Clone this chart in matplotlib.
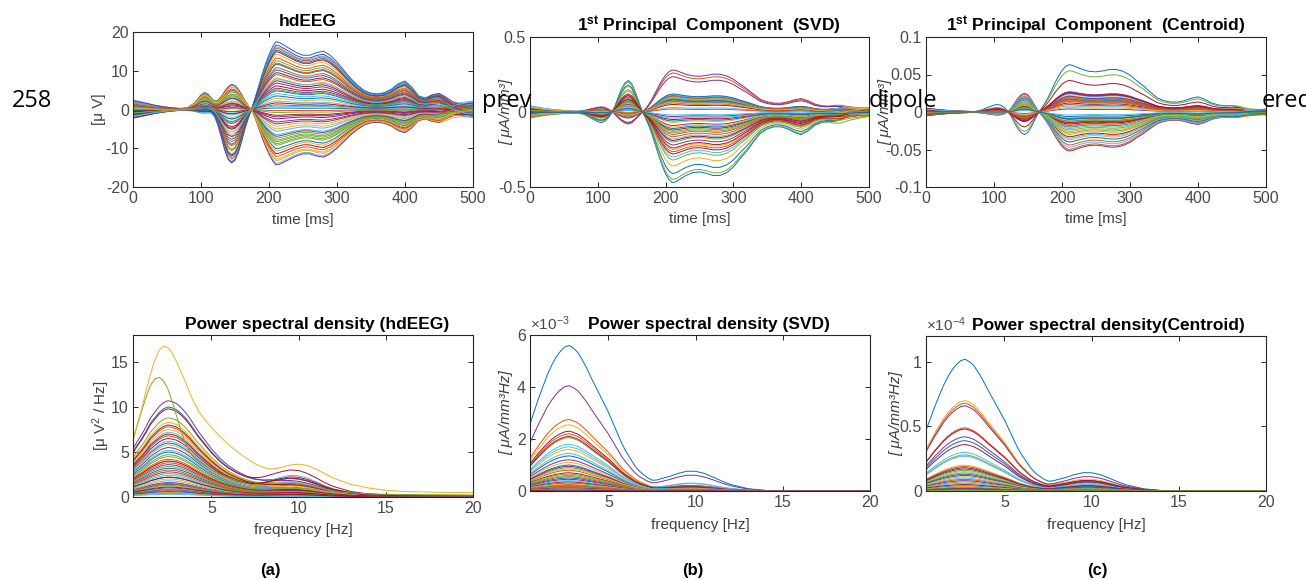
import numpy as np
import matplotlib
matplotlib.use("Agg")
import matplotlib.pyplot as plt

plt.rcParams.update({
    'font.family': 'Liberation Sans',
    'mathtext.fontset': 'custom',
    'mathtext.rm': 'Liberation Sans',
    'mathtext.it': 'Liberation Sans:italic',
    'mathtext.bf': 'Liberation Sans:bold',
    'axes.unicode_minus': False,
})

# MATLAB default line colours
matlab_colors = ['#0072BD', '#D95319', '#EDB120', '#7E2F8E', '#77AC30', '#4DBEEE', '#A2142F']

# ---------------- time courses (knots) ----------------
t_ms = [0, 10, 20, 30, 40, 50, 60, 70, 80, 90,
        100, 105, 110, 115, 120, 125, 130, 135, 140, 145,
        150, 155, 160, 165, 170, 175, 180, 185, 190, 195,
        200, 205, 210, 215, 220, 230, 240, 250, 260, 270,
        280, 290, 300, 310, 320, 330, 340, 350, 360, 370,
        380, 390, 400, 410, 420, 430, 440, 450, 460, 470,
        480, 490, 500]

# hdEEG waveform shapes
eeg_late = [0, 0, 0, 0, 0, 0, 0, 0, 0, 0,
            0, 0, 0, 0, 0, 0, 0, 0, 0, 0,
            0, 0, 0, 0, 0, 0.02, 0.15, 0.32, 0.5, 0.66,
            0.8, 0.92, 1.0, 0.99, 0.96, 0.9, 0.84, 0.8, 0.8, 0.84,
            0.86, 0.8, 0.7, 0.58, 0.46, 0.36, 0.28, 0.24, 0.23, 0.25,
            0.3, 0.38, 0.42, 0.33, 0.2, 0.17, 0.22, 0.24, 0.18, 0.1,
            0.06, 0.04, 0.03]
eeg_early = [0, 0, 0, 0, 0, 0, 0, 0, 0, 0.02,
             0.06, 0.08, 0.07, 0.03, -0.08, -0.28, -0.52, -0.76, -0.94, -1.0,
             -0.95, -0.8, -0.58, -0.34, -0.14, 0.0, 0.04, 0.04, 0.03, 0.02,
             0.01, 0, 0, 0, 0, 0, 0, 0, 0, 0,
             0, 0, 0, 0, 0, 0, 0, 0, 0, 0,
             0, 0, 0, 0, 0, 0, 0, 0, 0, 0,
             0, 0, 0]
eeg_p1 = [0, 0, 0, 0, 0, 0, 0, 0.02, 0.1, 0.35,
          0.85, 1.0, 0.92, 0.65, 0.35, 0.12, 0.0, -0.05, -0.05, 0.0,
          0, 0, 0, 0, 0, 0, 0, 0, 0, 0,
          0, 0, 0, 0, 0, 0, 0, 0, 0, 0,
          0, 0, 0, 0, 0, 0, 0, 0, 0, 0,
          0, 0, 0, 0, 0, 0, 0, 0, 0, 0,
          0, 0, 0]
eeg_base = [1.0, 0.85, 0.68, 0.5, 0.36, 0.25, 0.16, 0.1, 0.05, 0.02,
            0, 0, 0, 0, 0, 0, 0, 0, 0, 0,
            0, 0, 0, 0, 0, 0, 0, 0, 0, 0,
            0, 0, 0, 0, 0, 0, 0, 0, 0, 0,
            0, 0, 0, 0, 0, 0, 0, 0, 0, 0,
            0, 0, 0, 0, 0, 0, 0.1, 0.2, 0.3, 0.45,
            0.6, 0.75, 0.85]

# principal component waveform shapes
pc_late = [0, 0, 0, 0, 0, 0, 0, 0, 0, 0,
           0, 0, 0, 0, 0, 0, 0, 0, 0, 0,
           0, 0, 0, 0, 0.05, 0.16, 0.3, 0.46, 0.62, 0.76,
           0.88, 0.96, 1.0, 0.99, 0.96, 0.9, 0.86, 0.85, 0.87, 0.9,
           0.9, 0.86, 0.78, 0.66, 0.55, 0.42, 0.3, 0.24, 0.21, 0.21,
           0.24, 0.29, 0.32, 0.27, 0.19, 0.15, 0.14, 0.15, 0.13, 0.08,
           0.05, 0.02, 0.0]
pc_early = [0, 0, 0, 0, 0, 0, 0, 0, 0, 0,
            0, 0, 0, 0, -0.05, -0.2, -0.45, -0.72, -0.92, -1.0,
            -0.9, -0.65, -0.35, -0.05, 0.06, 0.06, 0.04, 0.02, 0.01, 0,
            0, 0, 0, 0, 0, 0, 0, 0, 0, 0,
            0, 0, 0, 0, 0, 0, 0, 0, 0, 0,
            0, 0, 0, 0, 0, 0, 0, 0, 0, 0,
            0, 0, 0]
pc_p1 = [0, 0, 0, 0, 0, 0, 0, 0.05, 0.25, 0.6,
         0.92, 1.0, 0.9, 0.6, 0.3, 0.08, -0.05, -0.05, 0, 0,
         0, 0, 0, 0, 0, 0, 0, 0, 0, 0,
         0, 0, 0, 0, 0, 0, 0, 0, 0, 0,
         0, 0, 0, 0, 0, 0, 0, 0, 0, 0,
         0, 0, 0, 0, 0, 0, 0, 0, 0, 0,
         0, 0, 0]
pc_base = [1.0, 0.8, 0.6, 0.45, 0.35, 0.25, 0.18, 0.12, 0.07, 0.03,
           0, 0, 0, 0, 0, 0, 0, 0, 0, 0,
           0, 0, 0, 0, 0, 0, 0, 0, 0, 0,
           0, 0, 0, 0, 0, 0, 0, 0, 0, 0,
           0, 0, 0, 0, 0, 0, 0, 0, 0, 0,
           0, 0, 0, 0, 0, 0, 0.1, 0.2, 0.35, 0.5,
           0.6, 0.7, 0.75]

# per-channel amplitudes: late peak (210 ms), N1 (145 ms), P1 (105 ms), baseline (0 ms)
eeg_late_amp = [17.5, -3.2, 9.5, -12.8, 4.1, 15.8, -7.4, 1.2, 12.6, -10.1,
                6.8, -1.5, 14.2, -5.6, 2.9, -13.9, 10.8, -8.3, 0.4, 16.6,
                -11.4, 5.5, -2.4, 8.1, -6.5, 13.3, -9.2, 3.5, -0.8, 11.7,
                -14.3, 7.4, -4.3, 16.1, -12.1, 0.9, 9.0, -7.9, 4.8, -1.9,
                14.9, -10.7, 6.1, -5.0, 2.2, 12.0, -8.8, 10.2, -3.7, 15.3,
                -6.9, 1.7, -13.2, 7.9, -0.3, 5.1]
eeg_n1_amp = [13.5, -1.2, 7.0, -5.8, 2.5, 12.8, -3.0, 0.5, 10.2, -4.6,
              4.8, -0.4, 11.5, -2.2, 2.0, -6.3, 8.3, -3.6, 0.6, 13.8,
              -5.0, 3.6, -1.5, 6.4, -2.8, 10.6, -4.0, 2.4, -0.2, 9.0,
              -6.5, 5.1, -1.8, 12.4, -5.3, 1.0, 6.9, -3.3, 3.1, -0.9,
              11.8, -4.8, 4.4, -2.1, 1.4, 9.4, -3.9, 7.7, -1.6, 12.0,
              -2.9, 1.1, -5.9, 5.8, -0.5, 3.3]
eeg_p1_amp = [1.0, 3.2, -0.8, 4.8, 0.4, -1.6, 2.6, 0.0, -0.5, 4.2,
              1.5, 0.8, -1.2, 2.0, 0.3, 5.0, -0.9, 3.5, 0.2, -2.0,
              4.5, 0.6, 1.2, -0.4, 2.8, -1.0, 3.8, 0.5, 0.9, -0.7,
              4.6, 0.1, 1.8, -1.8, 3.9, 0.3, -0.2, 3.0, 0.7, 1.1,
              -1.4, 4.0, 0.2, 2.2, 0.4, -0.6, 3.3, -0.3, 1.6, -1.1,
              2.4, 0.5, 4.4, 0.0, 0.6, 0.9]
eeg_base_amp = [-0.8, 1.2, 0.3, -1.9, 2.4, -0.2, 0.9, -1.3, 0.6, -0.5,
                1.7, -2.2, 0.1, 1.0, -0.9, 0.4, -1.6, 2.0, -0.3, 0.8,
                -1.1, 1.4, -0.6, 0.2, -2.0, 1.1, 0.5, -1.4, 1.9, -0.1,
                0.7, -0.7, 1.3, -1.8, 0.0, 2.2, -1.0, 0.6, -0.4, 1.5,
                -1.2, 0.3, -2.1, 0.9, 1.6, -0.8, 0.4, -1.5, 1.0, -0.2,
                2.3, -0.6, 0.2, -1.7, 1.2, -0.9]

svd_late_amp = [-0.47, 0.28, -0.12, 0.1, -0.3, 0.06, -0.2, 0.26, -0.45, 0.11,
                -0.09, 0.08, -0.25, 0.03, -0.36, 0.115, -0.15, 0.09, -0.41, 0.07,
                -0.05, 0.235, -0.28, 0.1, -0.18, 0.02, -0.32, 0.12, -0.13, 0.085,
                -0.22, 0.05, -0.07, 0.095, -0.265, -0.04, -0.165, 0.075, -0.11, -0.03,
                -0.24, 0.065, -0.19, -0.1, -0.02, 0.105, -0.14, -0.06]
svd_n1_amp = [-0.21, 0.08, -0.05, 0.03, -0.14, 0.02, -0.09, 0.075, -0.2, 0.035,
              -0.04, 0.025, -0.11, 0.01, -0.17, 0.04, -0.07, 0.03, -0.18, 0.02,
              -0.02, 0.07, -0.12, 0.03, -0.08, 0.005, -0.15, 0.04, -0.06, 0.025,
              -0.1, 0.015, -0.03, 0.03, -0.12, -0.02, -0.075, 0.02, -0.05, -0.01,
              -0.11, 0.02, -0.085, -0.045, -0.01, 0.035, -0.065, -0.025]
svd_p1_amp = [-0.07, 0.03, -0.01, 0.02, -0.04, 0.01, -0.02, 0.035, -0.06, 0.015,
              0.0, 0.01, -0.03, 0.005, -0.05, 0.02, -0.015, 0.01, -0.055, 0.005,
              0.0, 0.03, -0.035, 0.01, -0.02, 0.0, -0.04, 0.02, -0.01, 0.01,
              -0.025, 0.005, 0.0, 0.015, -0.03, 0.0, -0.02, 0.01, -0.01, 0.0,
              -0.03, 0.005, -0.02, -0.01, 0.0, 0.015, -0.015, -0.005]
svd_base_amp = [0.04, -0.02, 0.01, -0.03, 0.02, 0.0, -0.01, 0.03, -0.04, 0.015,
                -0.005, 0.025, -0.015, 0.005, 0.035, -0.025, 0.01, -0.01, 0.02, -0.03,
                0.0, 0.015, -0.02, 0.03, -0.005, 0.01, -0.035, 0.02, 0.005, -0.015,
                0.025, -0.01, 0.0, 0.04, -0.02, 0.01, -0.03, 0.015, 0.0, -0.01,
                0.02, -0.025, 0.005, 0.03, -0.015, 0.0, 0.01, -0.005]

cen_late_amp = [0.063, -0.052, 0.012, -0.03, 0.024, -0.015, 0.055, -0.044, 0.018, -0.02,
                -0.01, 0.042, -0.037, 0.008, -0.026, 0.02, -0.05, 0.015, -0.012, 0.027,
                -0.033, 0.004, -0.018, 0.022, -0.047, 0.01, -0.024, 0.017, -0.008, -0.04,
                0.025, -0.014, 0.006, -0.035, 0.019, -0.022, 0.014, -0.028, -0.006, 0.021,
                -0.016, -0.011, 0.026, -0.019, -0.004, 0.016, -0.013, -0.009]
cen_n1_amp = [0.03, -0.025, 0.006, -0.014, 0.012, -0.007, 0.026, -0.021, 0.009, -0.01,
              -0.005, 0.02, -0.018, 0.004, -0.012, 0.01, -0.024, 0.007, -0.006, 0.013,
              -0.016, 0.002, -0.009, 0.011, -0.022, 0.005, -0.011, 0.008, -0.004, -0.019,
              0.012, -0.007, 0.003, -0.017, 0.009, -0.01, 0.007, -0.013, -0.003, 0.01,
              -0.008, -0.005, 0.012, -0.009, -0.002, 0.008, -0.006, -0.004]
cen_p1_amp = [0.01, -0.004, 0.002, -0.002, 0.004, 0.0, 0.006, -0.003, 0.003, -0.001,
              0.0, 0.005, -0.002, 0.001, -0.001, 0.003, -0.004, 0.002, 0.0, 0.004,
              -0.002, 0.0, -0.001, 0.003, -0.003, 0.001, -0.001, 0.002, 0.0, -0.002,
              0.004, 0.0, 0.001, -0.002, 0.003, -0.001, 0.002, -0.001, 0.0, 0.003,
              -0.001, 0.0, 0.003, -0.001, 0.0, 0.002, 0.0, 0.0]
cen_base_amp = [-0.005, 0.004, 0.001, -0.002, 0.003, -0.001, 0.002, -0.004, 0.0, 0.005,
                -0.003, 0.001, 0.002, -0.001, 0.004, -0.002, 0.0, 0.003, -0.005, 0.001,
                0.002, -0.003, 0.0, 0.004, -0.001, 0.002, -0.004, 0.001, 0.003, -0.002,
                0.0, 0.005, -0.001, 0.002, -0.003, 0.001, 0.0, -0.002, 0.003, -0.001,
                0.002, 0.0, -0.003, 0.001, 0.004, -0.002, 0.0, 0.001]

# ---------------- power spectra (knots) ----------------
freq_hz = [0.5, 0.75, 1, 1.25, 1.5, 1.75, 2, 2.25, 2.5, 2.75,
           3, 3.25, 3.5, 3.75, 4, 4.25, 4.5, 4.75, 5, 5.25,
           5.5, 5.75, 6, 6.25, 6.5, 6.75, 7, 7.25, 7.5, 7.75,
           8, 8.5, 9, 9.5, 10, 10.5, 11, 11.5, 12, 13,
           14, 15, 16, 18, 20]
eeg_delta = [0.5, 0.58, 0.65, 0.73, 0.82, 0.88, 0.94, 0.98, 1.0, 0.99,
             0.97, 0.93, 0.88, 0.82, 0.75, 0.68, 0.62, 0.56, 0.5, 0.45,
             0.4, 0.36, 0.32, 0.29, 0.26, 0.235, 0.21, 0.19, 0.17, 0.155,
             0.14, 0.12, 0.1, 0.09, 0.08, 0.07, 0.06, 0.05, 0.045, 0.035,
             0.028, 0.022, 0.018, 0.014, 0.012]
pc_delta = [0.46, 0.55, 0.64, 0.72, 0.8, 0.865, 0.92, 0.96, 0.99, 1.0,
            0.98, 0.95, 0.9, 0.845, 0.78, 0.72, 0.66, 0.6, 0.54, 0.47,
            0.4, 0.33, 0.27, 0.22, 0.17, 0.13, 0.1, 0.07, 0.045, 0.035,
            0.03, 0.017, 0.01, 0.006, 0.004, 0.003, 0.002, 0.001, 0.001, 0,
            0, 0, 0, 0, 0]
alpha_bump = [0, 0, 0, 0, 0, 0, 0, 0, 0, 0,
              0, 0, 0, 0, 0, 0, 0, 0, 0, 0,
              0, 0, 0.02, 0.03, 0.04, 0.07, 0.1, 0.15, 0.22, 0.3,
              0.4, 0.62, 0.83, 0.97, 0.98, 0.88, 0.7, 0.5, 0.33, 0.12,
              0.03, 0.01, 0, 0, 0]

psd_eeg_yellow = [6.3, 8.1, 9.8, 11.8, 13.6, 15.2, 16.3, 16.75, 16.6, 16.0,
                  15.0, 13.9, 12.8, 11.6, 10.5, 9.6, 8.9, 8.3, 7.7, 7.2,
                  6.7, 6.25, 5.8, 5.4, 5.0, 4.65, 4.3, 4.0, 3.7, 3.45,
                  3.25, 3.1, 3.3, 3.55, 3.65, 3.5, 3.1, 2.6, 2.1, 1.4,
                  1.0, 0.75, 0.62, 0.52, 0.48]
psd_eeg_green = [6.3, 8.0, 9.6, 11.1, 12.4, 13.1, 13.3, 12.9, 12.0, 10.6,
                 9.0, 7.4, 6.0, 5.0, 4.3, 3.9, 3.6, 3.3, 3.0, 2.75,
                 2.5, 2.3, 2.1, 1.95, 1.8, 1.65, 1.5, 1.4, 1.3, 1.2,
                 1.1, 1.0, 0.95, 0.95, 0.95, 0.9, 0.8, 0.7, 0.6, 0.45,
                 0.35, 0.3, 0.28, 0.25, 0.22]
psd_eeg_delta_amp = [10.0, 7.8, 8.3, 10.7, 8.8, 7.2, 9.8,
                     6.0, 6.8, 7.5, 5.5, 4.7, 6.2, 8.0,
                     5.0, 4.2, 5.8, 3.6, 4.5, 5.2, 7.0,
                     3.2, 3.8, 4.0, 2.8, 3.4, 2.4, 6.5,
                     2.2, 3.0, 2.0, 1.6, 2.6, 1.8, 4.0,
                     1.4, 1.5, 1.2, 1.0, 1.3, 0.9, 2.2,
                     0.8, 0.7, 0.5, 0.6, 0.4, 0.3, 1.1]
psd_eeg_alpha_amp = [1.2, 0.9, 1.0, 0.9, 0.8, 1.0, 2.2,
                     0.8, 0.9, 0.7, 0.6, 0.5, 1.9, 0.7,
                     0.6, 0.5, 0.7, 0.5, 0.4, 0.6, 1.5,
                     0.5, 0.4, 0.6, 0.5, 0.3, 0.4, 1.7,
                     0.4, 0.3, 0.3, 0.3, 0.4, 0.2, 0.5,
                     0.2, 0.3, 0.2, 0.2, 0.2, 0.1, 0.3,
                     0.1, 0.1, 0.1, 0.1, 0.1, 0.05, 0.2]

# SVD spectra in units of 1e-3, centroid spectra in units of 1e-4
psd_svd_delta_amp = [5.6, 2.75, 2.55, 4.05, 2.05, 1.8, 2.3,
                     1.35, 2.2, 1.6, 1.2, 0.9, 1.7, 2.1,
                     1.0, 0.8, 1.1, 0.95, 0.6, 1.45, 0.7,
                     0.5, 0.55, 0.85, 0.45, 0.65, 0.4, 0.35,
                     0.3, 0.25, 0.28, 0.2, 0.22, 0.15, 0.12,
                     0.1, 0.18, 0.08, 0.06, 0.05, 0.04, 0.03]
psd_svd_alpha_amp = [0.75, 0.2, 0.18, 0.6, 0.15, 0.3, 0.18,
                     0.15, 0.2, 0.12, 0.1, 0.08, 0.28, 0.15,
                     0.1, 0.08, 0.1, 0.12, 0.06, 0.1, 0.07,
                     0.06, 0.05, 0.08, 0.05, 0.06, 0.04, 0.04,
                     0.03, 0.03, 0.03, 0.02, 0.03, 0.02, 0.02,
                     0.01, 0.02, 0.01, 0.01, 0.01, 0.01, 0.01]
psd_cen_delta_amp = [1.02, 0.68, 0.70, 0.66, 0.28, 0.30, 0.36,
                     0.39, 0.49, 0.20, 0.42, 0.16, 0.27, 0.48,
                     0.17, 0.19, 0.15, 0.12, 0.14, 0.10, 0.18,
                     0.13, 0.09, 0.11, 0.08, 0.07, 0.06, 0.05,
                     0.04, 0.03, 0.035, 0.02, 0.025, 0.015, 0.012,
                     0.01, 0.008, 0.006, 0.02, 0.005]
psd_cen_alpha_amp = [0.14, 0.08, 0.09, 0.11, 0.05, 0.06, 0.07,
                     0.07, 0.08, 0.04, 0.07, 0.03, 0.05, 0.08,
                     0.04, 0.04, 0.03, 0.03, 0.03, 0.02, 0.04,
                     0.03, 0.02, 0.02, 0.02, 0.02, 0.015, 0.01,
                     0.01, 0.01, 0.01, 0.005, 0.01, 0.005, 0.005,
                     0.004, 0.003, 0.002, 0.005, 0.002]

# ---------------- figure ----------------
W, H = 1306, 580
fig = plt.figure(figsize=(W / 100, H / 100), dpi=100)

def px_axes(x0, y0, x1, y1):
    return fig.add_axes([x0 / W, 1 - y1 / H, (x1 - x0) / W, (y1 - y0) / H])

def style(ax):
    for s in ax.spines.values():
        s.set_color('#262626')
        s.set_linewidth(0.8)
    ax.tick_params(direction='in', length=3.5, width=0.7, top=True, right=True,
                   colors='#262626', labelcolor='#4a4a4a', labelsize=11.5, pad=3)

def plot_traces(ax, late, early, p1, base, a, b, c, d):
    shapes = [np.array(s) for s in (late, early, p1, base)]
    for i, (ga, gb, gc, gd) in enumerate(zip(a, b, c, d)):
        y = ga * shapes[0] + gb * shapes[1] + gc * shapes[2] + gd * shapes[3]
        # stride through the colour cycle so big channels get mixed colours
        ax.plot(t_ms, y, color=matlab_colors[(3 * i + i // 7) % 7], lw=0.7)

def plot_spectra(ax, delta, d_amp, al_amp):
    dl = np.array(delta)
    al = np.array(alpha_bump)
    for i, (g1, g2) in enumerate(zip(d_amp, al_amp)):
        ax.plot(freq_hz, g1 * dl + g2 * al, color=matlab_colors[i % 7], lw=0.7)

title_kw = dict(fontsize=12.5, fontweight='bold', color='black')
lab_kw = dict(fontsize=11, color='#404040')

# (a) top: hdEEG
ax1 = px_axes(133, 32, 473, 187)
plot_traces(ax1, eeg_late, eeg_early, eeg_p1, eeg_base,
            eeg_late_amp, eeg_n1_amp, eeg_p1_amp, eeg_base_amp)
ax1.set_xlim(0, 500)
ax1.set_ylim(-20, 20)
ax1.set_yticks([-20, -10, 0, 10, 20])
ax1.set_title('hdEEG', pad=4, x=0.513, **title_kw)
ax1.set_ylabel('[μ V]', **lab_kw)
ax1.yaxis.set_label_coords(-0.079, 0.5)

# (b) top: SVD
ax2 = px_axes(530, 37, 869, 187)
plot_traces(ax2, pc_late, pc_early, pc_p1, pc_base,
            svd_late_amp, svd_n1_amp, svd_p1_amp, svd_base_amp)
ax2.set_xlim(0, 500)
ax2.set_ylim(-0.5, 0.5)
ax2.set_yticks([-0.5, 0, 0.5])
ax2.set_yticklabels(['-0.5', '0', '0.5'])
ax2.set_title(r'1$^{\mathbf{st}}$ Principal  Component  (SVD)', pad=4, x=0.528, **title_kw)
ax2.set_ylabel('[ μA/mm³]', fontstyle='italic', **lab_kw)
ax2.yaxis.set_label_coords(-0.05, 0.5)

# (c) top: centroid
ax3 = px_axes(926, 37, 1266, 187)
plot_traces(ax3, pc_late, pc_early, pc_p1, pc_base,
            cen_late_amp, cen_n1_amp, cen_p1_amp, cen_base_amp)
ax3.set_xlim(0, 500)
ax3.set_ylim(-0.1, 0.1)
ax3.set_yticks([-0.1, -0.05, 0, 0.05, 0.1])
ax3.set_yticklabels(['-0.1', '-0.05', '0', '0.05', '0.1'])
ax3.set_title(r'1$^{\mathbf{st}}$ Principal  Component  (Centroid)', pad=4, **title_kw)
ax3.set_ylabel('[ μA/mm³]', fontstyle='italic', **lab_kw)
ax3.yaxis.set_label_coords(-0.1, 0.5)

for ax in (ax1, ax2, ax3):
    ax.set_xticks([0, 100, 200, 300, 400, 500])
    ax.set_xlabel('time [ms]', va='top', **lab_kw)
    ax.xaxis.set_label_coords(0.5, -0.17)
    style(ax)

# (a) bottom: hdEEG spectra
ax4 = px_axes(133, 335, 473, 497)
plot_spectra(ax4, eeg_delta, psd_eeg_delta_amp, psd_eeg_alpha_amp)
ax4.plot(freq_hz, psd_eeg_green, color=matlab_colors[4], lw=0.7)
ax4.plot(freq_hz, psd_eeg_yellow, color=matlab_colors[2], lw=0.7)
ax4.set_ylim(0, 18)
ax4.set_yticks([0, 5, 10, 15])
ax4.set_title('Power spectral density (hdEEG)', pad=4, x=0.543, **title_kw)
ax4.set_ylabel('[μ V$^2$ / Hz]', **lab_kw)
ax4.yaxis.set_label_coords(-0.062, 0.5)
ax4.xaxis.set_label_coords(0.5, -0.16)

# (b) bottom: SVD spectra
ax5 = px_axes(530, 335, 870, 491)
plot_spectra(ax5, pc_delta, psd_svd_delta_amp, psd_svd_alpha_amp)
ax5.set_ylim(0, 6)
ax5.set_yticks([0, 2, 4, 6])
ax5.set_title('Power spectral density (SVD)', pad=4, x=0.525, **title_kw)
ax5.text(0.0, 1.01, r'$\times10^{-3}$', transform=ax5.transAxes, ha='left', va='bottom',
         fontsize=11, color='#4a4a4a')
ax5.set_ylabel('[ μA/mm³Hz]', fontstyle='italic', **lab_kw)
ax5.yaxis.set_label_coords(-0.05, 0.5)
ax5.xaxis.set_label_coords(0.5, -0.173)

# (c) bottom: centroid spectra
ax6 = px_axes(926, 336, 1266, 491)
plot_spectra(ax6, pc_delta, psd_cen_delta_amp, psd_cen_alpha_amp)
ax6.set_ylim(0, 1.2)
ax6.set_yticks([0, 0.5, 1])
ax6.set_yticklabels(['0', '0.5', '1'])
ax6.set_title('Power spectral density(Centroid)', pad=4, x=0.537, **title_kw)
ax6.text(0.0, 1.01, r'$\times10^{-4}$', transform=ax6.transAxes, ha='left', va='bottom',
         fontsize=11, color='#4a4a4a')
ax6.set_ylabel('[ μA/mm³Hz]', fontstyle='italic', **lab_kw)
ax6.yaxis.set_label_coords(-0.068, 0.5)
ax6.xaxis.set_label_coords(0.5, -0.174)

for ax in (ax4, ax5, ax6):
    ax.set_xlim(0.5, 20)
    ax.set_xticks([5, 10, 15, 20])
    ax.set_xlabel('frequency [Hz]', va='top', **lab_kw)
    style(ax)

# panel letters
for x, s in ((270, '(a)'), (693, '(b)'), (1097, '(c)')):
    fig.text(x / W, 1 - 571 / H, s, ha='center', va='center', fontsize=12, fontweight='bold')

# fragments of the page text showing through behind the figure
page_kw = dict(fontsize=17, family='Open Sans', color='black', va='center', zorder=5)
fig.text(12 / W, 1 - 101 / H, '258', ha='left', **page_kw)
fig.text(482 / W, 1 - 101 / H, 'prev', ha='left', **page_kw)
fig.text(869 / W, 1 - 101 / H, 'dipole', ha='left', **page_kw)
fig.text(1262 / W, 1 - 101 / H, 'ered', ha='left', **page_kw)

fig.savefig('out.png', dpi=100)
